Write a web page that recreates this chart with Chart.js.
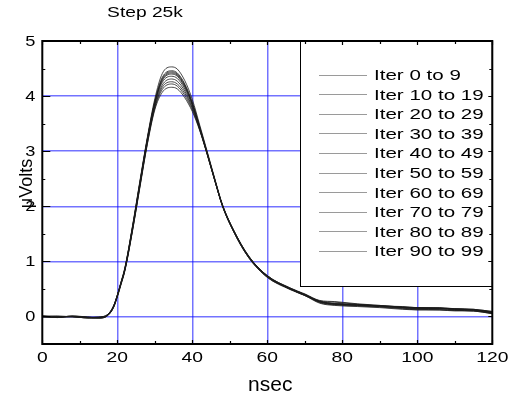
<!DOCTYPE html>
<html>
<head>
<meta charset="utf-8">
<script src="https://cdn.jsdelivr.net/npm/chart.js@4/dist/chart.umd.min.js"></script>
<style>
  html, body { margin: 0; padding: 0; background: #fff; }
  canvas { display: block; }
</style>
</head>
<body>
<canvas id="pulseChart" width="517" height="401"></canvas>
<script>
// sample times (nsec) shared by every averaged trace
const nsec = [0, 4, 8, 12, 15, 17.5, 19, 20, 21, 22, 24, 26, 28, 30, 32, 34.5, 36, 38, 40,
  42, 44, 46, 48, 51, 55, 60, 66, 70, 74, 78, 84, 90, 96, 100, 106, 110, 115, 120];

// averaged pulse, one trace per block of ten iterations
const iter0to9 = [0.01, -0.02, 0.01, -0.01, -0.03, 0.02, 0.17, 0.37, 0.61, 0.86, 1.62, 2.45, 3.25, 3.95, 4.41, 4.53, 4.49, 4.28, 3.94,
  3.47, 2.99, 2.50, 2.04, 1.57, 1.10, 0.73, 0.50, 0.38, 0.24, 0.20, 0.18, 0.16, 0.13, 0.12, 0.12, 0.11, 0.10, 0.05];
const iter10to19 = [0.00, -0.01, 0.00, -0.02, -0.02, 0.03, 0.19, 0.39, 0.63, 0.88, 1.61, 2.43, 3.23, 3.91, 4.34, 4.46, 4.42, 4.22, 3.89,
  3.44, 2.97, 2.49, 2.03, 1.56, 1.09, 0.74, 0.52, 0.40, 0.28, 0.26, 0.22, 0.19, 0.17, 0.15, 0.15, 0.14, 0.12, 0.08];
const iter20to29 = [-0.01, 0.00, -0.01, -0.02, -0.01, 0.04, 0.19, 0.38, 0.62, 0.87, 1.60, 2.42, 3.22, 3.89, 4.32, 4.44, 4.40, 4.20, 3.87,
  3.43, 2.96, 2.48, 2.02, 1.55, 1.08, 0.72, 0.51, 0.39, 0.27, 0.23, 0.21, 0.20, 0.17, 0.16, 0.15, 0.13, 0.12, 0.07];
const iter30to39 = [0.01, 0.00, 0.00, -0.01, -0.02, 0.03, 0.18, 0.38, 0.62, 0.86, 1.59, 2.41, 3.21, 3.88, 4.30, 4.42, 4.38, 4.18, 3.86,
  3.42, 2.95, 2.47, 2.01, 1.54, 1.07, 0.71, 0.49, 0.38, 0.26, 0.22, 0.21, 0.19, 0.18, 0.16, 0.16, 0.14, 0.13, 0.09];
const iter40to49 = [0.00, -0.02, 0.01, -0.02, -0.03, 0.02, 0.17, 0.37, 0.61, 0.85, 1.58, 2.40, 3.20, 3.87, 4.28, 4.40, 4.36, 4.16, 3.85,
  3.41, 2.95, 2.47, 2.01, 1.54, 1.07, 0.71, 0.50, 0.38, 0.27, 0.24, 0.22, 0.19, 0.16, 0.15, 0.14, 0.12, 0.11, 0.06];
const iter50to59 = [-0.01, -0.01, 0.00, -0.03, -0.02, 0.03, 0.18, 0.38, 0.61, 0.85, 1.58, 2.39, 3.19, 3.85, 4.25, 4.36, 4.32, 4.13, 3.83,
  3.41, 2.96, 2.48, 2.02, 1.55, 1.08, 0.73, 0.51, 0.40, 0.28, 0.23, 0.20, 0.18, 0.16, 0.14, 0.14, 0.13, 0.12, 0.08];
const iter60to69 = [0.00, 0.01, -0.01, -0.02, -0.02, 0.03, 0.18, 0.37, 0.60, 0.84, 1.56, 2.37, 3.17, 3.82, 4.20, 4.31, 4.27, 4.09, 3.80,
  3.40, 2.95, 2.48, 2.02, 1.56, 1.09, 0.73, 0.50, 0.39, 0.26, 0.22, 0.20, 0.18, 0.15, 0.13, 0.12, 0.10, 0.10, 0.06];
const iter70to79 = [0.01, -0.01, 0.00, -0.01, -0.02, 0.04, 0.19, 0.38, 0.60, 0.84, 1.55, 2.36, 3.15, 3.80, 4.16, 4.26, 4.22, 4.05, 3.78,
  3.39, 2.94, 2.47, 2.02, 1.56, 1.09, 0.74, 0.52, 0.41, 0.29, 0.27, 0.23, 0.20, 0.17, 0.16, 0.15, 0.14, 0.13, 0.09];
const iter80to89 = [0.00, -0.01, 0.00, -0.02, -0.01, 0.03, 0.17, 0.36, 0.59, 0.83, 1.54, 2.35, 3.14, 3.78, 4.12, 4.22, 4.18, 4.01, 3.75,
  3.38, 2.94, 2.47, 2.03, 1.57, 1.10, 0.74, 0.51, 0.40, 0.27, 0.23, 0.21, 0.19, 0.16, 0.15, 0.15, 0.13, 0.12, 0.07];
const iter90to99 = [-0.01, -0.02, 0.00, -0.03, -0.03, 0.02, 0.16, 0.35, 0.58, 0.82, 1.53, 2.33, 3.12, 3.75, 4.07, 4.16, 4.13, 3.97, 3.72,
  3.37, 2.93, 2.46, 2.02, 1.56, 1.09, 0.73, 0.50, 0.39, 0.25, 0.21, 0.19, 0.17, 0.14, 0.12, 0.12, 0.11, 0.10, 0.05];

const iterLabels = ["Iter 0 to 9", "Iter 10 to 19", "Iter 20 to 29", "Iter 30 to 39", "Iter 40 to 49",
  "Iter 50 to 59", "Iter 60 to 69", "Iter 70 to 79", "Iter 80 to 89", "Iter 90 to 99"];
const traces = [iter0to9, iter10to19, iter20to29, iter30to39, iter40to49,
  iter50to59, iter60to69, iter70to79, iter80to89, iter90to99];

const xTickLabels = [0, 20, 40, 60, 80, 100, 120];
const yTickLabels = [0, 1, 2, 3, 4, 5];

const FONT = '"Liberation Sans", Arial, sans-serif';
const GRID_BLUE = "rgba(0, 0, 255, 0.55)";

// the old plotting package used a wide face, so text gets squeezed out horizontally
function wideText(ctx, str, x, y, sx, align) {
  ctx.save();
  ctx.translate(x, y);
  ctx.scale(sx, 1);
  ctx.textAlign = align;
  ctx.fillText(str, 0, 0);
  ctx.restore();
}

const framePlugin = {
  id: "frame",
  afterDraw(chart) {
    const { ctx, chartArea: a, scales: { x, y } } = chart;
    ctx.save();

    // legend box sits over the grid in the upper right
    const lx = 300.5, ly = 40.5, lw = a.right - 300.5, lh = 246;
    ctx.fillStyle = "#fff";
    ctx.fillRect(lx, ly, lw, lh);
    ctx.strokeStyle = "#000";
    ctx.lineWidth = 1;
    ctx.strokeRect(lx, ly, lw, lh);
    ctx.font = "15px " + FONT;
    ctx.textBaseline = "alphabetic";
    chart.data.datasets.forEach((ds, i) => {
      const rowY = 74.5 + i * 19.6;
      ctx.strokeStyle = "#9a9a9a";
      ctx.lineWidth = 1;
      ctx.beginPath();
      ctx.moveTo(319, Math.round(rowY) + 0.5);
      ctx.lineTo(367, Math.round(rowY) + 0.5);
      ctx.stroke();
      ctx.fillStyle = "#000";
      wideText(ctx, ds.label, 374, rowY + 5.5, 1.37, "left");
    });

    // axis frame
    ctx.strokeStyle = "#000";
    ctx.lineWidth = 2;
    ctx.strokeRect(a.left, a.top, a.right - a.left, a.bottom - a.top);

    // inward tick marks
    ctx.lineWidth = 1.2;
    ctx.beginPath();
    x.ticks.forEach(t => {
      const px = Math.round(x.getPixelForValue(t.value)) + 0.5;
      const len = t.value % 20 === 0 ? 4 : 3;
      ctx.moveTo(px, a.bottom); ctx.lineTo(px, a.bottom - len);
      ctx.moveTo(px, a.top); ctx.lineTo(px, a.top + len);
    });
    y.ticks.forEach(t => {
      const py = Math.round(y.getPixelForValue(t.value)) + 0.5;
      const major = Number.isInteger(t.value);
      ctx.moveTo(a.left, py); ctx.lineTo(a.left + (major ? 8 : 3), py);
      ctx.moveTo(a.right, py); ctx.lineTo(a.right - (major ? 4 : 3), py);
    });
    ctx.stroke();

    // tick labels
    ctx.fillStyle = "#000";
    ctx.font = "14px " + FONT;
    xTickLabels.forEach(v => wideText(ctx, String(v), x.getPixelForValue(v), a.bottom + 18, 1.38, "center"));
    yTickLabels.forEach(v => wideText(ctx, String(v), a.left - 7, y.getPixelForValue(v) + 4.5, 1.3, "right"));

    // title and axis titles
    ctx.font = "15px " + FONT;
    wideText(ctx, "Step 25k", 145, 17, 1.28, "center");
    ctx.font = "21px " + FONT;
    ctx.textAlign = "center";
    ctx.fillText("nsec", (a.left + a.right) / 2 + 3, 391);
    ctx.translate(31.5, 183.5);
    ctx.rotate(-Math.PI / 2);
    ctx.font = "18px " + FONT;
    ctx.fillText("μVolts", 0, 0);
    ctx.restore();
  }
};

new Chart(document.getElementById("pulseChart"), {
  type: "line",
  data: {
    datasets: traces.map((vals, i) => ({
      label: iterLabels[i],
      data: nsec.map((t, k) => ({ x: t, y: vals[k] })),
      borderColor: "#1c1c1c",
      borderWidth: 0.8,
      pointRadius: 0,
      cubicInterpolationMode: "monotone",
      fill: false,
    })),
  },
  options: {
    responsive: false,
    animation: false,
    devicePixelRatio: 1,
    layout: { autoPadding: false, padding: { left: 42.3, right: 24.7, top: 41, bottom: 57 } },
    plugins: { legend: { display: false }, tooltip: { enabled: false }, title: { display: false } },
    scales: {
      x: {
        type: "linear",
        min: 0,
        max: 120,
        ticks: { stepSize: 10, display: false },
        border: { display: false },
        grid: {
          drawTicks: false,
          lineWidth: 1.5,
          color: c => (c.tick && c.tick.value % 20 === 0 && c.tick.value > 0 && c.tick.value < 120) ? GRID_BLUE : "rgba(0,0,0,0)",
        },
      },
      y: {
        min: -0.5,
        max: 5,
        ticks: { stepSize: 0.5, display: false },
        border: { display: false },
        grid: {
          drawTicks: false,
          lineWidth: 1.5,
          color: c => (c.tick && Number.isInteger(c.tick.value) && c.tick.value >= 0 && c.tick.value < 5) ? GRID_BLUE : "rgba(0,0,0,0)",
        },
      },
    },
  },
  plugins: [framePlugin],
});
</script>
</body>
</html>
